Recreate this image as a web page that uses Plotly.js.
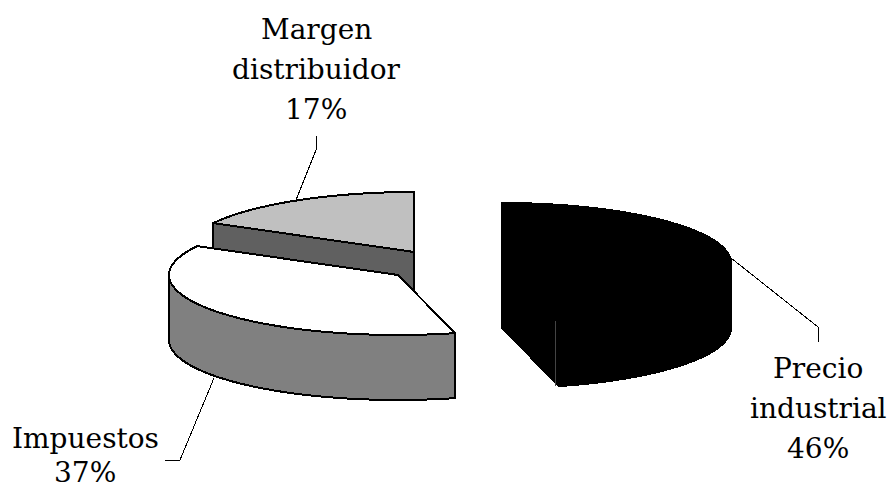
<!DOCTYPE html>
<html>
<head>
<meta charset="utf-8">
<script src="https://cdn.plot.ly/plotly-3.0.1.min.js"></script>
<style>html,body{margin:0;padding:0;background:#fff}#chart{width:892px;height:488px}
.scatterlayer .js-line{shape-rendering:crispEdges}</style>
</head>
<body>
<div id="chart"></div>
<script>
// Data
var categories = ['Precio industrial', 'Impuestos', 'Margen distribuidor'];
var shares = [46, 37, 17];
var labelLines = [['Precio', 'industrial'], ['Impuestos'], ['Margen', 'distribuidor']];

// Geometry of the exploded 3-D pie (pixel scale of the axes)
var RX = 229, RY = 60, DEPTH = 65;
var centres = [[502, 263], [398, 275], [414, 252]];
var topColors = ['#000000', '#ffffff', '#c0c0c0'];
var wallColors = ['#000000', '#808080', '#606060'];

function arc(i, a0, a1, dy) {
  var pts = [], n = 90, c = centres[i];
  for (var k = 0; k <= n; k++) {
    var t = (a0 + (a1 - a0) * k / n) * Math.PI / 180;
    pts.push([c[0] + RX * Math.sin(t), c[1] - RY * Math.cos(t) + dy]);
  }
  return pts;
}
function poly(points, fill, lineColor, width) {
  var xs = points.map(function (p) { return p[0]; });
  var ys = points.map(function (p) { return p[1]; });
  return {
    type: 'scatter', mode: 'lines', x: xs, y: ys, fill: 'toself', fillcolor: fill,
    line: { color: lineColor, width: width === undefined ? 2 : width, simplify: false },
    hoverinfo: 'skip', showlegend: false
  };
}

var starts = [], acc = 0;
shares.forEach(function (s) { starts.push(acc); acc += s; });
var angle = function (p) { return p * 3.6; };
var traces = [];

// draw back to front: Margen, Impuestos, Precio
[2, 1, 0].forEach(function (i) {
  var a0 = angle(starts[i]), a1 = angle(starts[i] + shares[i]);
  var c = centres[i];
  var apex = [c[0], c[1]], apexLow = [c[0], c[1] + DEPTH];
  // flat cut faces that can be seen
  if (i === 2) {
    var e = arc(i, a0, a0, 0)[0];
    traces.push(poly([apex, e, [e[0], e[1] + DEPTH], apexLow, apex], wallColors[i], '#000'));
  }
  if (i === 0) {
    var s = arc(i, a0, a0, 0)[0], t = arc(i, a1, a1, 0)[0];
    traces.push(poly([s, [s[0], s[1] + DEPTH], apexLow, [t[0], t[1] + DEPTH], t, apex, s], wallColors[i], '#000'));
  }
  // outer wall, only the part facing the viewer (angles 90 to 270)
  var w0 = Math.max(a0, 90), w1 = Math.min(a1, 270);
  if (w1 > w0) {
    var up = arc(i, w0, w1, 0), low = arc(i, w0, w1, DEPTH).reverse();
    traces.push(poly(up.concat(low, [up[0]]), wallColors[i], '#000'));
  }
  // top face
  var top = [apex].concat(arc(i, a0, a1, 0), [apex]);
  traces.push(poly(top, topColors[i], '#000'));
  if (i === 0) {
    // thin seam on the black slice
    var q = arc(i, a1, a1, 0)[0];
    traces.push({ type: 'scatter', mode: 'lines', x: [q[0] - 3, q[0] - 3], y: [q[1], q[1] + DEPTH],
      line: { color: '#444', width: 1 }, hoverinfo: 'skip', showlegend: false });
  }
});

// Leader lines
var leaders = [
  { x: [731, 818, 818], y: [258, 327, 342] },
  { x: [214, 180, 165], y: [378, 460, 460] },
  { x: [296, 316, 316], y: [200, 150, 136] }
];
leaders.forEach(function (l) {
  traces.push({ type: 'scatter', mode: 'lines', x: l.x, y: l.y,
    line: { color: '#000', width: 1 }, hoverinfo: 'skip', showlegend: false });
});

// Labels, one annotation per line for the wide line spacing
var labelX = [818, 85, 316];
var labelY = [368, 438, 29];
var LINE = 40;
var annotations = [];
categories.forEach(function (name, i) {
  var lines = labelLines[i].concat([shares[i] + '%']);
  lines.forEach(function (txt, k) {
    annotations.push({
      x: labelX[i], y: labelY[i] + k * LINE - (i === 1 && k === 1 ? 6 : 0), xref: 'x', yref: 'y',
      text: txt, showarrow: false, xanchor: 'center', yanchor: 'middle',
      font: { family: '"DejaVu Serif", serif', size: 28, color: '#000' }
    });
  });
});

Plotly.newPlot('chart', traces, {
  width: 892, height: 488,
  margin: { l: 0, r: 0, t: 0, b: 0 },
  paper_bgcolor: '#fff', plot_bgcolor: '#fff',
  showlegend: false,
  xaxis: { range: [0, 892], visible: false, fixedrange: true },
  yaxis: { range: [488, 0], visible: false, fixedrange: true },
  annotations: annotations
}, { displayModeBar: false, staticPlot: true });
</script>
</body>
</html>
